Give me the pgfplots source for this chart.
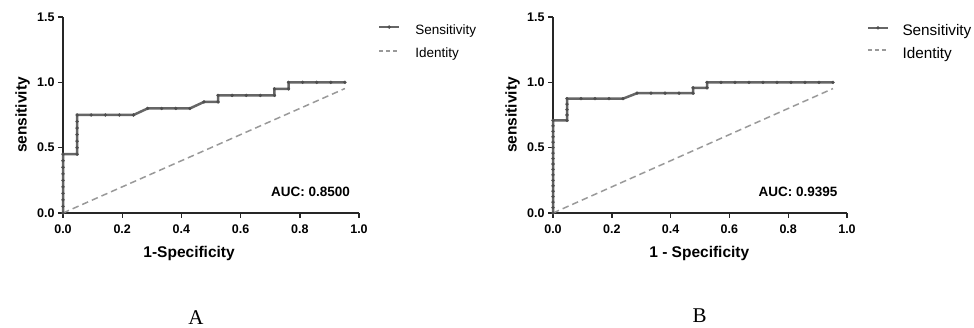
\documentclass[border=0pt]{standalone}
\usepackage{fontspec}
\setmainfont{Liberation Sans}
\newfontfamily\seriffont{Liberation Serif}
\usepackage{pgfplots}
\pgfplotsset{compat=1.18}

\definecolor{roc}{HTML}{666666}
\definecolor{rocmark}{HTML}{4E4E4E}
\definecolor{ident}{HTML}{999999}

\pgfplotstableread{
x y
0 0
0 0.05
0 0.10
0 0.15
0 0.20
0 0.25
0 0.30
0 0.35
0 0.40
0 0.45
0.0476 0.45
0.0476 0.50
0.0476 0.55
0.0476 0.60
0.0476 0.65
0.0476 0.70
0.0476 0.75
0.0952 0.75
0.1429 0.75
0.1905 0.75
0.2381 0.75
0.2857 0.80
0.3333 0.80
0.3810 0.80
0.4286 0.80
0.4762 0.85
0.5238 0.85
0.5238 0.90
0.5714 0.90
0.6190 0.90
0.6667 0.90
0.7143 0.90
0.7143 0.95
0.7619 0.95
0.7619 1.00
0.8095 1.00
0.8571 1.00
0.9048 1.00
0.9524 1.00
}\rocA

\pgfplotstableread{
x y
0 0
0 0.0417
0 0.0833
0 0.1250
0 0.1667
0 0.2083
0 0.2500
0 0.2917
0 0.3333
0 0.3750
0 0.4167
0 0.4583
0 0.5000
0 0.5417
0 0.5833
0 0.6250
0 0.6667
0 0.7083
0.0476 0.7083
0.0476 0.7500
0.0476 0.7917
0.0476 0.8333
0.0476 0.8750
0.0952 0.8750
0.1429 0.8750
0.1905 0.8750
0.2381 0.8750
0.2857 0.9167
0.3333 0.9167
0.3810 0.9167
0.4286 0.9167
0.4762 0.9167
0.4762 0.9583
0.5238 0.9583
0.5238 1.0000
0.5714 1.0000
0.6190 1.0000
0.6667 1.0000
0.7143 1.0000
0.7619 1.0000
0.8095 1.0000
0.8571 1.0000
0.9048 1.0000
0.9524 1.0000
}\rocB

\pgfplotstableread{
x y
0 0
0.9524 0.9524
}\ident

\pgfplotsset{
  rocaxis/.style={
    scale only axis,
    axis lines=left,
    axis line style={-, line width=1.4pt, black!85},
    xmin=0, xmax=1, ymin=0, ymax=1.5,
    xtick={0,0.2,0.4,0.6,0.8,1.0},
    ytick={0,0.5,1.0,1.5},
    tick align=outside,
    major tick length=5pt,
    tick style={line width=1.4pt, black!85},
    ticklabel style={font=\fontsize{12.5}{12.5}\selectfont\bfseries},
    xticklabel style={yshift=-3.5pt, /pgf/number format/.cd, fixed, fixed zerofill, precision=1, assume math mode=true},
    yticklabel style={/pgf/number format/.cd, fixed, fixed zerofill, precision=1, assume math mode=true},
    label style={font=\fontsize{15.5}{15.5}\selectfont\bfseries},
    clip=false,
    legend cell align=left,
  },
  rocline/.style={color=roc, line width=2.5pt, mark=*, mark size=1.5pt,
    mark options={fill=rocmark, draw=rocmark, line width=0.4pt, solid}},
  identline/.style={color=ident, line width=1.5pt, dash pattern=on 6.5pt off 4pt},
  legsensA/.style={legend image code/.code={
    \draw[##1, mark repeat=2, mark phase=2] plot coordinates {(0pt,7pt) (10pt,7pt) (20pt,7pt)};}},
  legidentA/.style={legend image code/.code={
    \draw[##1, dash pattern=on 4pt off 3pt] (0pt,7pt) -- (20pt,7pt);}},
  legsensB/.style={legend image code/.code={
    \draw[##1, mark repeat=2, mark phase=2] plot coordinates {(0pt,8pt) (10pt,8pt) (20pt,8pt)};}},
  legidentB/.style={legend image code/.code={
    \draw[##1, dash pattern=on 4pt off 3pt] (0pt,8pt) -- (20pt,8pt);}},
}

\begin{document}
\begin{tikzpicture}
\path[use as bounding box] (0pt,0pt) rectangle (974pt,328pt);

% Panel A
\begin{axis}[rocaxis,
  at={(63pt,115pt)}, anchor=south west,
  width=296pt, height=196pt,
  xlabel={1-Specificity}, ylabel={sensitivity},
  xlabel style={at={(axis description cs:0.426,-0.2296)}, anchor=base},
  ylabel style={at={(axis description cs:-0.1226,0.5)}, anchor=base},
  legend style={at={(axis description cs:1.064,0.963)}, anchor=north west,
    draw=none, fill=none, inner sep=0pt, outer sep=0pt, row sep=12.5pt,
    font=\fontsize{13.5}{13.5}\selectfont,
    nodes={anchor=base west, inner sep=0pt},
    /tikz/every odd column/.append style={column sep=15pt}},
]
\addplot[rocline, legsensA] table[x=x,y=y] {\rocA};
\addlegendentry{Sensitivity}
\addplot[identline, legidentA] table[x=x,y=y] {\ident};
\addlegendentry{Identity}
\node[anchor=base east, inner sep=0pt, font=\fontsize{13.5}{13.5}\selectfont\bfseries] at (axis cs:0.970,0.130) {AUC: 0.8500};
\end{axis}

% Panel B
\begin{axis}[rocaxis,
  at={(553pt,115pt)}, anchor=south west,
  width=294pt, height=196pt,
  xlabel={1 - Specificity}, ylabel={sensitivity},
  xlabel style={at={(axis description cs:0.4976,-0.227)}, anchor=base},
  ylabel style={at={(axis description cs:-0.1235,0.5)}, anchor=base},
  legend style={at={(axis description cs:1.067,0.960)}, anchor=north west,
    draw=none, fill=none, inner sep=0pt, outer sep=0pt, row sep=9.5pt,
    font=\fontsize{15.3}{15.3}\selectfont,
    nodes={anchor=base west, inner sep=0pt},
    /tikz/every odd column/.append style={column sep=13.3pt}},
]
\addplot[rocline, legsensB] table[x=x,y=y] {\rocB};
\addlegendentry{Sensitivity}
\addplot[identline, legidentB] table[x=x,y=y] {\ident};
\addlegendentry{Identity}
\node[anchor=base east, inner sep=0pt, font=\fontsize{13.5}{13.5}\selectfont\bfseries] at (axis cs:0.968,0.126) {AUC: 0.9395};
\end{axis}

\node[anchor=base, font=\seriffont\fontsize{21}{21}\selectfont] at (196pt,3pt) {A};
\node[anchor=base, font=\seriffont\fontsize{21}{21}\selectfont] at (699.5pt,5pt) {B};
\end{tikzpicture}
\end{document}
